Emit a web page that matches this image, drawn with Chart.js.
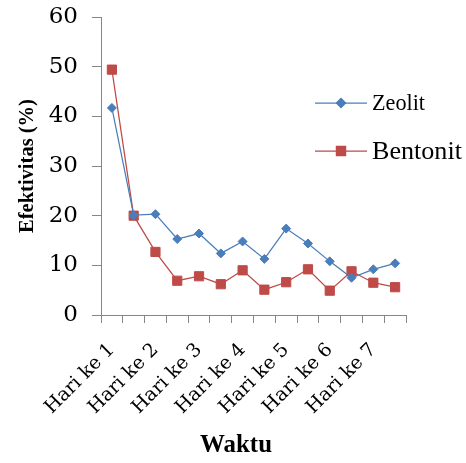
<!DOCTYPE html>
<html lang="id">
<head>
<meta charset="UTF-8">
<title>Efektivitas</title>
<script src="https://cdn.jsdelivr.net/npm/chart.js@4"></script>
<style>
  * { margin: 0; padding: 0; }
  body { background: #fff; width: 466px; height: 463px; overflow: hidden; }
  #wrap { position: relative; width: 466px; height: 463px; }
</style>
</head>
<body>
<div id="wrap"><canvas id="chart" width="466" height="463"></canvas></div>
<script>
// two readings per day, Excel shows every other label
const categories = ['Hari ke 1', '', 'Hari ke 2', '', 'Hari ke 3', '', 'Hari ke 4', '',
  'Hari ke 5', '', 'Hari ke 6', '', 'Hari ke 7', ''];
const zeolit = [41.7, 20.1, 20.3, 15.3, 16.4, 12.4, 14.8, 11.3, 17.4, 14.4, 10.8, 7.5, 9.2, 10.4];
const bentonit = [49.4, 20.0, 12.7, 6.9, 7.8, 6.2, 9.0, 5.1, 6.6, 9.2, 4.9, 8.8, 6.5, 5.6];
const yTicks = [0, 10, 20, 30, 40, 50, 60];

const AXIS = '#868686';
const SERIF = '"DejaVu Serif", serif';
const TIMES = '"Liberation Serif", "Times New Roman", serif';

// pick a font size so a text gets the width it has in the original
function sizeFor(text, width, style) {
  const c = document.createElement('canvas').getContext('2d');
  c.font = style + '100px ' + TIMES;
  return 100 * width / c.measureText(text).width;
}

// legend drawn by hand: the two entries have different sizes in the original
const legendPlugin = {
  id: 'handLegend',
  afterDraw(chart) {
    const ctx = chart.ctx;
    const items = [
      { ds: chart.data.datasets[0], y: 103, w: 53 },
      { ds: chart.data.datasets[1], y: 151, w: 90 }
    ];
    ctx.save();
    items.forEach(it => {
      ctx.strokeStyle = it.ds.borderColor;
      ctx.lineWidth = 1.25;
      ctx.beginPath();
      ctx.moveTo(315, it.y);
      ctx.lineTo(367, it.y);
      ctx.stroke();
      Chart.helpers.drawPoint(ctx, {
        pointStyle: it.ds.pointStyle, radius: it.ds.pointRadius,
        borderWidth: 1, rotation: 0
      }, 341, it.y);
      ctx.fillStyle = it.ds.borderColor;
      ctx.fill();
      ctx.fillStyle = '#000';
      ctx.font = sizeFor(it.ds.label, it.w, '').toFixed(1) + 'px ' + TIMES;
      ctx.textBaseline = 'middle';
      ctx.textAlign = 'left';
      ctx.fillText(it.ds.label, 372, it.y + 1);
    });
    // x axis title sits left of the plot centre in the original
    ctx.font = 'bold ' + sizeFor('Waktu', 72, 'bold ').toFixed(1) + 'px ' + TIMES;
    ctx.textAlign = 'center';
    ctx.fillText('Waktu', 236, 446);
    ctx.restore();
  }
};

new Chart(document.getElementById('chart'), {
  type: 'line',
  data: {
    labels: categories,
    datasets: [
      {
        label: 'Zeolit', data: zeolit,
        borderColor: '#4A7EBB', backgroundColor: '#4A7EBB',
        borderWidth: 1.25, pointStyle: 'rectRot', pointRadius: 4.5,
        pointBorderWidth: 1, tension: 0
      },
      {
        label: 'Bentonit', data: bentonit,
        borderColor: '#BE4B48', backgroundColor: '#BE4B48',
        borderWidth: 1.25, pointStyle: 'rect', pointRadius: 6.5,
        pointBorderWidth: 1, tension: 0
      }
    ]
  },
  options: {
    responsive: false,
    animation: false,
    layout: { padding: { top: 17, right: 60, left: 0, bottom: 0 } },
    plugins: { legend: { display: false }, tooltip: { enabled: false } },
    scales: {
      x: {
        offset: true,
        grid: { offset: true, drawOnChartArea: false, tickLength: 8, color: AXIS },
        border: { color: AXIS, width: 1 },
        ticks: {
          autoSkip: false, maxRotation: 45, minRotation: 45, padding: 16,
          color: '#000', font: { family: SERIF, size: 19 }
        },
        afterFit(scale) { scale.height = 148; }
      },
      y: {
        min: 0, max: 60,
        afterBuildTicks(scale) { scale.ticks = yTicks.map(v => ({ value: v })); },
        grid: { drawOnChartArea: false, tickLength: 9, color: AXIS },
        border: { color: AXIS, width: 1 },
        ticks: { padding: 14, color: '#000', font: { family: SERIF, size: 23 } },
        title: {
          display: true, text: 'Efektivitas (%)', color: '#000', padding: { top: 15, bottom: 0 },
          font: { family: TIMES, size: 20.5, weight: 'bold' }
        },
        afterFit(scale) {
          scale.width = 101;
          scale.paddingTop = 0;
          scale.paddingBottom = 0;
        }
      }
    }
  },
  plugins: [legendPlugin]
});
</script>
</body>
</html>
